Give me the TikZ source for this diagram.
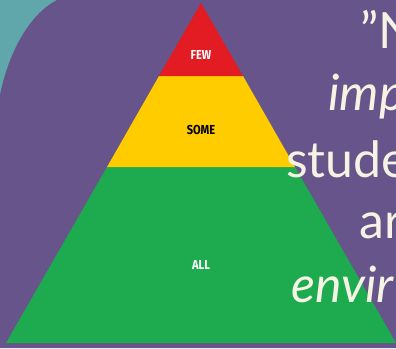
\documentclass[tikz,border=0pt]{standalone}
\usepackage{fontspec}
\setmainfont{Lato}
\newfontfamily\labelfont{Fira Sans}
\definecolor{bgpurple}{HTML}{67548A}
\definecolor{bgteal}{HTML}{5FA7AA}
\definecolor{pyred}{HTML}{E31B23}
\definecolor{pyyellow}{HTML}{FFCC00}
\definecolor{pygreen}{HTML}{1EAA4E}
\definecolor{cream}{HTML}{F5F3E4}
\begin{document}
\begin{tikzpicture}[x=1pt,y=-1pt,
  tierlabel/.style={font=\labelfont\bfseries\fontsize{13}{13}\selectfont, inner sep=0pt, xscale=0.85},
  quote/.style={font=\fontsize{50}{50}\selectfont, text=cream, anchor=base west, inner sep=0pt}]
\useasboundingbox (0,0) rectangle (396,348);
\clip (0,0) rectangle (396,348);
\fill[bgteal] (0,0) rectangle (396,348);
\fill[bgpurple] (0,95) .. controls (8,55) and (28,15) .. (57,0) -- (396,0) -- (396,348) -- (0,348) -- cycle;
% pyramid
\coordinate (apex) at (201,3);
\coordinate (bl) at (6,343);
\coordinate (br) at (396,343);
\coordinate (r1l) at (159,76);
\coordinate (r1r) at (243,76);
\coordinate (r2l) at (107,167);
\coordinate (r2r) at (295,167);
\fill[pygreen] (r2l) -- (r2r) -- (br) -- (bl) -- cycle;
\fill[pyyellow] (r1l) -- (r1r) -- (r2r) -- (r2l) -- cycle;
\fill[pyred] (apex) -- (r1r) -- (r1l) -- cycle;
\node[tierlabel, text=white] (few) at (201,55) {FEW};
\node[tierlabel, text=black] (some) at (201,130) {SOME};
\node[tierlabel, text=white] (all) at (201,265) {ALL};
% quote text (cut off at right edge, as in the reference)
\node[quote] (q1) at (360,48) {\symbol{34}N};
\node[quote] (q2) at (328,110) {\itshape imp};
\node[quote] (q3) at (286,177) {stude};
\node[quote] (q4) at (359,238) {ar};
\node[quote] (q5) at (291,302) {\itshape envir};
\end{tikzpicture}
\end{document}
